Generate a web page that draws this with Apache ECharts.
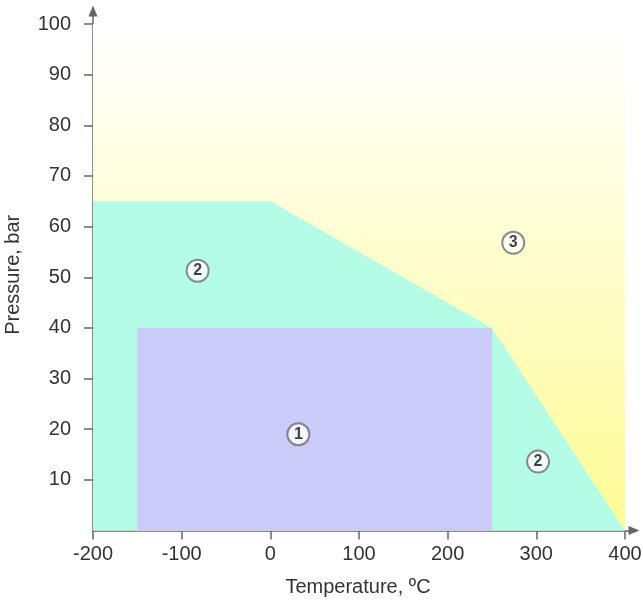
<!DOCTYPE html>
<html>
<head>
<meta charset="utf-8">
<script src="https://cdn.jsdelivr.net/npm/echarts@6/dist/echarts.min.js"></script>
<style>
html,body{margin:0;padding:0;background:#fff;}
#chart{width:643px;height:603px;}
</style>
</head>
<body>
<div id="chart"></div>
<script>
// ---- data ----
const xTicks = [-200, -100, 0, 100, 200, 300, 400];
const yTicks = [10, 20, 30, 40, 50, 60, 70, 80, 90, 100];
const zone3 = [[-200, 0], [-200, 100], [400, 100], [400, 0]];
const zone2 = [[-200, 0], [-200, 65], [0, 65], [250, 40], [400, 0]];
const zone1 = [[-150, 0], [-150, 40], [250, 40], [250, 0]];
const markerLabels = ['1', '2', '2', '3'];
const markerX = [31.6, -82, 302, 274];
const markerY = [19, 51.3, 13.6, 56.8];

const chart = echarts.init(document.getElementById('chart'));

function polygonSeries(pts, fill, z) {
  return {
    type: 'custom',
    data: pts,
    silent: true,
    z: z,
    renderItem: function (params, api) {
      if (params.dataIndex !== 0) return null;
      const points = pts.map(function (p) { return api.coord(p); });
      return { type: 'polygon', shape: { points: points }, style: { fill: fill } };
    }
  };
}

const axisColor = '#666';
const textColor = '#333';
const fontFamily = '"Liberation Sans", Arial, sans-serif';

chart.setOption({
  animation: false,
  backgroundColor: '#fff',
  grid: { left: 93, right: 9, top: 11, bottom: 72.5, containLabel: false, outerBoundsMode: 'none' },
  xAxis: {
    type: 'value', min: -200, max: 410.2,
    splitLine: { show: false },
    axisLine: { onZero: false, lineStyle: { color: axisColor, width: 1.5 }, symbol: ['none', 'triangle'], symbolSize: [9, 11] },
    axisTick: { length: 9, lineStyle: { color: axisColor, width: 1.5 }, customValues: xTicks },
    axisLabel: { customValues: xTicks, margin: 14, color: textColor, fontSize: 20, fontFamily: fontFamily },
    name: 'Temperature, ºC', nameLocation: 'middle', nameGap: 47,
    nameTextStyle: { color: textColor, fontSize: 20, fontFamily: fontFamily, padding: [0, 11, 0, 0] }
  },
  yAxis: {
    type: 'value', min: 0, max: 102.57,
    splitLine: { show: false },
    axisLine: { onZero: false, lineStyle: { color: axisColor, width: 1.5 }, symbol: ['none', 'triangle'], symbolSize: [9, 11] },
    axisTick: { length: 9, lineStyle: { color: axisColor, width: 1.5 }, customValues: yTicks },
    axisLabel: { customValues: yTicks, margin: 22, color: textColor, fontSize: 20, fontFamily: fontFamily },
    name: 'Pressure, bar', nameLocation: 'middle', nameGap: 70, nameRotate: 90,
    nameTextStyle: { color: textColor, fontSize: 20, fontFamily: fontFamily, padding: [0, 8, 0, 0] }
  },
  series: [
    polygonSeries(zone3, new echarts.graphic.LinearGradient(0, 0, 0, 1, [
      { offset: 0, color: '#ffffff' },
      { offset: 1, color: '#fffb94' }
    ]), 1),
    polygonSeries(zone2, '#b5fce6', 2),
    polygonSeries(zone1, '#cbcbfa', 3),
    {
      type: 'scatter',
      z: 10,
      silent: true,
      symbol: 'circle',
      symbolSize: 22,
      itemStyle: { color: '#fff', borderColor: '#6e6e6e', borderWidth: 2 },
      label: {
        show: true, position: 'inside',
        formatter: function (p) { return markerLabels[p.dataIndex]; },
        color: '#111', fontSize: 16, fontWeight: 'bold', fontFamily: fontFamily
      },
      data: markerX.map(function (x, i) { return [x, markerY[i]]; })
    }
  ]
});
</script>
</body>
</html>
